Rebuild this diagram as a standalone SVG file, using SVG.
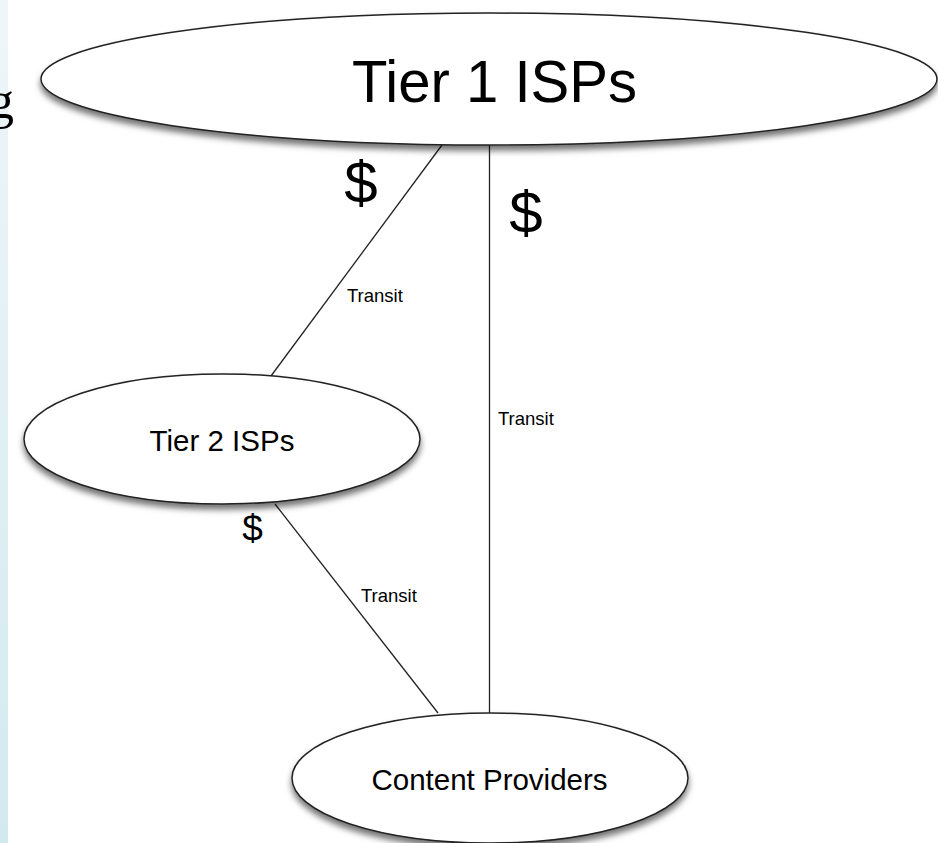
<svg xmlns="http://www.w3.org/2000/svg" width="938" height="843" viewBox="0 0 938 843">
<defs>
<linearGradient id="strip" x1="0" y1="0" x2="0" y2="1">
<stop offset="0" stop-color="#eef6f9"/>
<stop offset="1" stop-color="#d3e9f0"/>
</linearGradient>
<filter id="sh" x="-10%" y="-20%" width="120%" height="150%">
<feDropShadow dx="0" dy="5" stdDeviation="3" flood-color="#000" flood-opacity="0.55"/>
</filter>
<style>
.node{fill:#fff;stroke:#222;stroke-width:1.5;filter:url(#sh)}
.lbl{font-family:"Liberation Sans",Arial,Helvetica,sans-serif;fill:#000;text-anchor:middle}
.tr{font-family:"Liberation Sans",Arial,Helvetica,sans-serif;fill:#000;font-size:18.5px}
.edge{stroke:#222;stroke-width:1.3;fill:none}
</style>
</defs>
<rect x="0" y="0" width="938" height="843" fill="#fff"/>
<rect x="0" y="0" width="8" height="843" fill="url(#strip)"/>
<text x="14" y="118" font-family="Liberation Serif,Times New Roman,serif" font-size="52" text-anchor="end" fill="#000">g</text>
<g id="connectors">
<line class="edge" x1="442" y1="145" x2="271" y2="376"/>
<line class="edge" x1="489.5" y1="145" x2="489.5" y2="713"/>
<line class="edge" x1="275" y1="504" x2="438" y2="713"/>
</g>
<g id="tier1">
<ellipse class="node" cx="489" cy="79" rx="448" ry="66"/>
<text class="lbl" x="494.5" y="102" font-size="60" textLength="285" lengthAdjust="spacingAndGlyphs">Tier 1 ISPs</text>
</g>
<g id="tier2">
<ellipse class="node" cx="222" cy="439" rx="198" ry="65"/>
<text class="lbl" x="222" y="451" font-size="29.5">Tier 2 ISPs</text>
</g>
<g id="content">
<ellipse class="node" cx="490" cy="778" rx="198" ry="65"/>
<text class="lbl" x="489.5" y="790" font-size="29.5">Content Providers</text>
</g>
<g id="labels">
<text class="lbl" x="361" y="203" font-size="60">$</text>
<text class="lbl" x="526" y="233" font-size="60">$</text>
<text class="lbl" x="252.5" y="541" font-size="37">$</text>
<text class="tr" x="347" y="302">Transit</text>
<text class="tr" x="498" y="425">Transit</text>
<text class="tr" x="361" y="602">Transit</text>
</g>
</svg>
